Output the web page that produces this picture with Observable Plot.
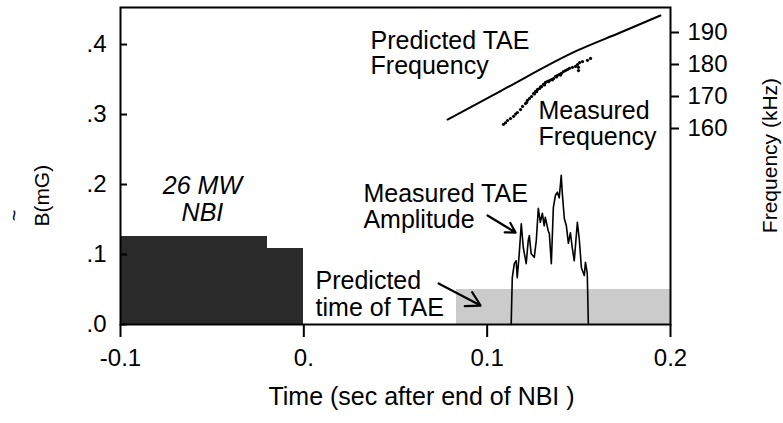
<!DOCTYPE html>
<html><head><meta charset="utf-8">
<script src="https://cdn.jsdelivr.net/npm/d3@7"></script>
<script src="https://cdn.jsdelivr.net/npm/@observablehq/plot@0.6"></script>
<style>
html,body{margin:0;padding:0;background:#fff;}
#wrap{position:relative;width:783px;height:423px;overflow:hidden;}
#wrap svg{position:absolute;left:0;top:0;}
</style></head><body><div id="wrap"></div>
<script>
// ---- data ----
const nbiStart = [-0.1, -0.02];
const nbiEnd = [-0.02, 0.0];
const nbiLevel = [0.126, 0.109];

const predWindowStart = 0.083;
const predWindowEnd = 0.2;
const predWindowLevel = 0.05;

const ampTime = [0.1131,0.1137,0.1148,0.1158,0.1164,0.1175,0.1186,0.1197,0.1213,0.1224,0.1230,0.1240,0.1257,0.1268,0.1279,0.1290,0.1301,0.1311,0.1317,0.1333,0.1339,0.1350,0.1361,0.1372,0.1383,0.1393,0.1404,0.1410,0.1421,0.1432,0.1443,0.1454,0.1464,0.1475,0.1492,0.1503,0.1514,0.1530,0.1536,0.1546,0.1552];
const ampValue = [0,0.067,0.087,0.091,0.067,0.101,0.144,0.110,0.087,0.120,0.127,0.101,0.096,0.120,0.166,0.146,0.159,0.141,0.153,0.134,0.130,0.087,0.167,0.184,0.189,0.181,0.213,0.187,0.151,0.141,0.116,0.131,0.110,0.091,0.146,0.120,0.081,0.070,0.089,0.073,0];

const predFreqTime = [0.0784,0.1073,0.1493,0.1727,0.1945];
const predFreqValue = [162.8,171.7,184.4,190.0,195.3];

const measFreqTime = [0.1089,0.1100,0.1111,0.1127,0.1144,0.1155,0.1165,0.1182,0.1193,0.1209,0.1215,0.1220,0.1231,0.1242,0.1253,0.1258,0.1264,0.1270,0.1275,0.1286,0.1291,0.1297,0.1307,0.1313,0.1318,0.1329,0.1335,0.1340,0.1351,0.1356,0.1362,0.1373,0.1378,0.1384,0.1395,0.1400,0.1405,0.1416,0.1427,0.1438,0.1449,0.1465,0.1482,0.1493,0.1498,0.1498,0.1504,0.1520,0.1547,0.1564];
const measFreqValue = [161.3,161.8,162.5,163.1,163.8,164.5,165.0,165.9,166.9,167.8,168.1,168.8,169.4,170.0,170.9,170.8,171.6,171.5,172.2,172.5,173.0,173.1,173.8,173.6,174.4,174.7,174.6,175.0,175.3,175.2,175.6,176.3,176.1,176.6,176.9,176.7,177.2,177.8,178.1,178.4,178.8,179.1,179.4,180.0,179.1,178.1,180.6,180.9,181.3,181.9];

const bTicks = [0, 0.1, 0.2, 0.3, 0.4];
const bTickLabels = [".0", ".1", ".2", ".3", ".4"];
const timeTicks = [-0.1, 0, 0.1, 0.2];
const timeTickLabels = ["-0.1", "0.", "0.1", "0.2"];
const freqTicks = [160, 170, 180, 190];
const freqTickLabels = ["160", "170", "180", "190"];

// ---- tables built from arrays ----
const nbi = nbiStart.map((s, i) => ({x1: s, x2: nbiEnd[i], y: nbiLevel[i]}));
const predWindow = [{x1: predWindowStart, x2: predWindowEnd, y: predWindowLevel}];
const amp = ampTime.map((t, i) => ({t, v: ampValue[i]}));
const predFreq = predFreqTime.map((t, i) => ({t, f: predFreqValue[i]}));
const measFreq = measFreqTime.map((t, i) => ({t, f: measFreqValue[i]}));

const W = 783, H = 423;
const margins = {marginTop: 7, marginRight: 113, marginBottom: 99, marginLeft: 120};
const font = "'Liberation Sans', Arial, Helvetica, sans-serif";
const xDomain = [-0.1, 0.2];

const main = Plot.plot({
  width: W, height: H, ...margins,
  style: {fontFamily: font, fontSize: "24px", color: "#000", background: "#fff"},
  x: {domain: xDomain},
  y: {domain: [0, 0.4529]},
  marks: [
    Plot.rect(nbi, {x1: "x1", x2: "x2", y1: 0, y2: "y", fill: "#2a2a2a", shapeRendering: "crispEdges"}),
    Plot.rect(predWindow, {x1: "x1", x2: "x2", y1: 0, y2: "y", fill: "#cbcbcb", shapeRendering: "crispEdges"}),
    Plot.line(amp, {x: "t", y: "v", stroke: "#000", strokeWidth: 1.6}),
    Plot.axisY(bTicks, {anchor: "left", tickSize: -7, tickPadding: 21, strokeWidth: 2,
      tickFormat: d => bTickLabels[bTicks.indexOf(d)], label: null, fontSize: 24}),
    Plot.axisX(timeTicks, {anchor: "bottom", tickSize: 13, tickPadding: 11, strokeWidth: 2,
      tickFormat: d => timeTickLabels[timeTicks.indexOf(d)], label: null, fontSize: 24}),
    Plot.frame({stroke: "#000", strokeWidth: 2}),
    Plot.text(["Predicted TAE\nFrequency"], {x: 0.0364, y: 0.42, textAnchor: "start", lineAnchor: "top", fontSize: 25, lineHeight: 1.02}),
    Plot.text(["Measured\nFrequency"], {x: 0.128, y: 0.32, textAnchor: "start", lineAnchor: "top", fontSize: 25, lineHeight: 1.04}),
    Plot.text(["Measured TAE\nAmplitude"], {x: 0.0325, y: 0.2014, textAnchor: "start", lineAnchor: "top", fontSize: 25, lineHeight: 1.04}),
    Plot.text(["Predicted\ntime of TAE"], {x: 0.0064, y: 0.0786, textAnchor: "start", lineAnchor: "top", fontSize: 25, lineHeight: 1.08}),
    Plot.text(["26 MW\nNBI"], {x: -0.0553, y: 0.213, textAnchor: "middle", lineAnchor: "top", fontSize: 25, fontStyle: "italic", lineHeight: 1.06}),
    Plot.arrow([0], {x1: 0.1002, y1: 0.1557, x2: 0.1155, y2: 0.1314, stroke: "#000", strokeWidth: 2.2, headLength: 11}),
    Plot.arrow([0], {x1: 0.0735, y1: 0.0586, x2: 0.0964, y2: 0.0271, stroke: "#000", strokeWidth: 2.2, headLength: 11}),
    Plot.text(["B(mG)"], {x: -0.1425, y: 0.184, rotate: -90, fontSize: 21}),
    Plot.text(["~"], {x: -0.1578, y: 0.1557, rotate: -90, fontSize: 20}),
    Plot.text(["Time (sec after end of NBI )"], {x: 0.0642, y: -0.1029, fontSize: 25}),
    Plot.text(["Frequency (kHz)"], {x: 0.2546, y: 0.2414, rotate: -90, fontSize: 21})
  ]
});

const freqPlot = Plot.plot({
  width: W, height: H, ...margins,
  style: {fontFamily: font, fontSize: "24px", color: "#000", background: "transparent"},
  x: {domain: xDomain, axis: null},
  y: {domain: [98.75, 197.81]},
  marks: [
    Plot.line(predFreq, {x: "t", y: "f", stroke: "#000", strokeWidth: 2, curve: "monotone-x"}),
    Plot.dot(measFreq, {x: "t", y: "f", r: 1.6, fill: "#000", stroke: null}),
    Plot.axisY(freqTicks, {anchor: "right", tickSize: 8, tickPadding: 9, strokeWidth: 2,
      tickFormat: d => freqTickLabels[freqTicks.indexOf(d)], label: null, fontSize: 24})
  ]
});

const wrap = document.getElementById("wrap");
wrap.appendChild(main);
wrap.appendChild(freqPlot);
</script>
</body></html>
